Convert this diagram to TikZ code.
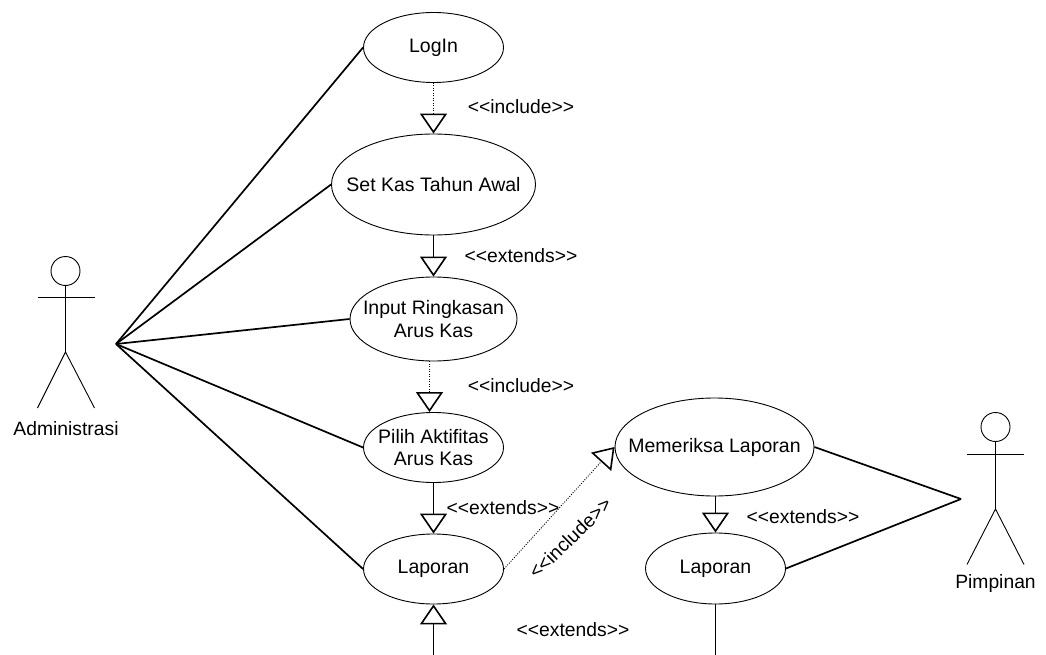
\documentclass[tikz,border=0pt]{standalone}
\usepackage{fontspec}
\setmainfont{Liberation Sans}
\usetikzlibrary{shapes.geometric,arrows.meta}
\tikzset{
  base/.style={x=1pt,y=-1pt},
  usecase/.style={ellipse,draw=black,line width=0.9pt,inner xsep=-40pt,inner ysep=-10pt,align=center,font=\fontsize{19.5}{22.5}\selectfont},
  lbl/.style={inner sep=0pt,font=\fontsize{19.3}{22}\selectfont},
  assoc/.style={draw=black,line width=1.7pt},
  stick/.style={draw=black,line width=0.9pt},
  gen/.style={draw=black,line width=0.9pt,-{Triangle[open,length=20pt,width=27pt,line width=1.6pt]}},
  dep/.style={gen,dash pattern=on 1pt off 1.5pt},
  plainline/.style={draw=black,line width=0.9pt}
}
\begin{document}
\begin{tikzpicture}[base]
\useasboundingbox (0,0) rectangle (1046,655);
% use cases
\node[usecase,minimum width=140pt,minimum height=70pt] (login) at (433.5,47.5) {LogIn};
\node[usecase,minimum width=204pt,minimum height=101pt] (setkas) at (433.5,184.5) {Set Kas Tahun Awal};
\node[usecase,minimum width=167pt,minimum height=84pt] (input) at (433.5,319) {Input Ringkasan\\Arus Kas};
\node[usecase,minimum width=140pt,minimum height=70pt] (pilih) at (433.5,447.5) {Pilih Aktifitas\\Arus Kas};
\node[usecase,minimum width=140pt,minimum height=70pt] (lap) at (433.5,569) {Laporan};
\node[usecase,minimum width=199pt,minimum height=98pt] (periksa) at (714.5,447) {Memeriksa Laporan};
\node[usecase,minimum width=140pt,minimum height=71pt] (lapb) at (715.5,568.5) {Laporan};
% actors
\node[circle,draw=black,line width=0.9pt,minimum size=29pt,inner sep=0pt] (headA) at (65.5,271) {};
\coordinate (hipA) at (65.5,352);
\coordinate (armLA) at (37.5,297.5);
\coordinate (armRA) at (94.5,297.5);
\coordinate (footLA) at (37.5,408);
\coordinate (footRA) at (94.5,408);
\draw[stick] (headA.south) -- (hipA);
\draw[stick] (armLA) -- (armRA);
\draw[stick] (footLA) -- (hipA) -- (footRA);
\node[lbl] (nameA) at (66,429) {Administrasi};
\node[circle,draw=black,line width=0.9pt,minimum size=29pt,inner sep=0pt] (headB) at (995.5,427) {};
\coordinate (hipB) at (995.5,509);
\coordinate (armLB) at (967,454);
\coordinate (armRB) at (1024,454);
\coordinate (footLB) at (967,564.5);
\coordinate (footRB) at (1024,564.5);
\draw[stick] (headB.south) -- (hipB);
\draw[stick] (armLB) -- (armRB);
\draw[stick] (footLB) -- (hipB) -- (footRB);
\node[lbl] (nameB) at (995.5,584) {Pimpinan};
% associations
\coordinate (apexA) at (116,344);
\coordinate (apexB) at (961,499);
\draw[assoc] (apexA) -- (login.west);
\draw[assoc] (apexA) -- (setkas.west);
\draw[assoc] (apexA) -- (input.west);
\draw[assoc] (apexA) -- (pilih.west);
\draw[assoc] (apexA) -- (lap.west);
\draw[assoc] (apexB) -- (periksa.east);
\draw[assoc] (apexB) -- (lapb.east);
% generalisations
\coordinate (ipx) at (429.5,0);
\draw[dep] (login.south) -- (setkas.north);
\draw[gen] (setkas.south) -- (input.north);
\draw[dep] (input.south -| ipx) -- (pilih.north -| ipx);
\draw[gen] (pilih.south) -- (lap.north);
\draw[dep] (lap.east) -- (periksa.west);
\draw[gen] (periksa.south -| lapb.north) -- (lapb.north);
\coordinate (lowA) at (433.5,655);
\coordinate (lowB) at (715.5,655);
\draw[gen] (lowA) -- (lap.south);
\draw[plainline] (lapb.south) -- (lowB);
% labels
\node[lbl] (l1) at (521,107) {<{}<include>{}>};
\node[lbl] (l2) at (521,256) {<{}<extends>{}>};
\node[lbl] (l3) at (521,386) {<{}<include>{}>};
\node[lbl] (l4) at (503,508) {<{}<extends>{}>};
\node[lbl,rotate=44] (l5) at (570,538) {<{}<include>{}>};
\node[lbl] (l6) at (573,630) {<{}<extends>{}>};
\node[lbl] (l7) at (803,517) {<{}<extends>{}>};
\end{tikzpicture}
\end{document}
